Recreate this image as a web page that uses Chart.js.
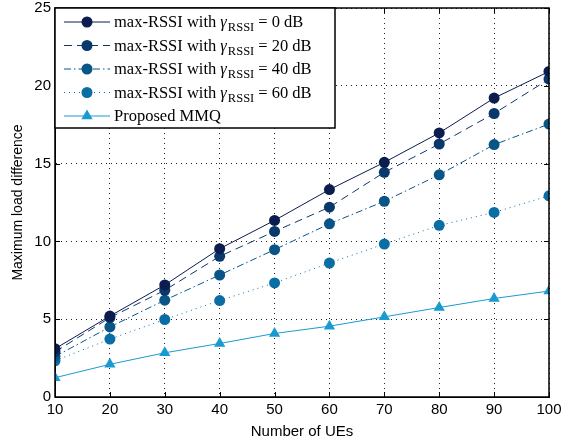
<!DOCTYPE html>
<html>
<head>
<meta charset="utf-8">
<script src="https://cdn.jsdelivr.net/npm/chart.js@4"></script>
<style>
  html, body { margin: 0; padding: 0; background: #fff; }
  #wrap { width: 575px; height: 441px; }
</style>
</head>
<body>
<div id="wrap"><canvas id="myChart" width="575" height="441"></canvas></div>
<script>
const labels = [10, 20, 30, 40, 50, 60, 70, 80, 90, 100];
const yTicks = [0, 5, 10, 15, 20, 25];

const rssi0 = [3.1, 5.2, 7.2, 9.53, 11.35, 13.33, 15.08, 16.97, 19.21, 20.92];
const rssi20 = [2.9, 5.1, 6.86, 9.04, 10.64, 12.2, 14.44, 16.26, 18.22, 20.43];
const rssi40 = [2.6, 4.5, 6.22, 7.84, 9.47, 11.13, 12.58, 14.28, 16.22, 17.54];
const rssi60 = [2.33, 3.72, 4.98, 6.2, 7.33, 8.61, 9.83, 11.03, 11.86, 12.93];
const mmq = [1.24, 2.1, 2.84, 3.44, 4.08, 4.55, 5.15, 5.75, 6.33, 6.81];

const legendGammas = ["0", "20", "40", "60"];

const COLORS = {
  c0: "#0b1d4f",
  c20: "#08386c",
  c40: "#0a5588",
  c60: "#0a6ea5",
  mmq: "#1a9bd0",
};

function series(label, values, color, dash, style, radius) {
  return {
    label: label,
    data: values.map((v, i) => ({ x: labels[i], y: v })),
    borderColor: color,
    backgroundColor: color,
    borderWidth: 1,
    borderDash: dash,
    pointStyle: style,
    pointRadius: radius,
    pointHoverRadius: radius,
    pointBorderWidth: 0,
    tension: 0,
  };
}

const data = {
  datasets: [
    series("0", rssi0, COLORS.c0, [], "circle", 5.5),
    series("20", rssi20, COLORS.c20, [8, 5], "circle", 5.5),
    series("40", rssi40, COLORS.c40, [7, 3, 1.5, 3], "circle", 5.5),
    series("60", rssi60, COLORS.c60, [1, 4], "circle", 5.5),
    series("Proposed MMQ", mmq, COLORS.mmq, [], "triangle", 6.5),
  ],
};

// frame + inward ticks on all four sides, legend with subscripts
const framePlugin = {
  id: "frame",
  afterDatasetsDraw(chart) {
    const { ctx, chartArea: a, scales } = chart;
    ctx.save();
    ctx.strokeStyle = "#000";
    ctx.lineWidth = 1;
    ctx.beginPath();
    labels.forEach((v) => {
      const x = Math.round(scales.x.getPixelForValue(v)) + 0.5;
      ctx.moveTo(x, a.bottom); ctx.lineTo(x, a.bottom - 5);
      ctx.moveTo(x, a.top); ctx.lineTo(x, a.top + 5);
    });
    yTicks.forEach((v) => {
      const y = Math.round(scales.y.getPixelForValue(v)) + 0.5;
      ctx.moveTo(a.left, y); ctx.lineTo(a.left + 5, y);
      ctx.moveTo(a.right, y); ctx.lineTo(a.right - 5, y);
    });
    ctx.stroke();
    ctx.lineWidth = 1.5;
    ctx.strokeRect(a.left, a.top, a.right - a.left, a.bottom - a.top);
    ctx.restore();
  },
  afterDraw(chart) {
    const { ctx, chartArea: a } = chart;
    const bx = a.left, by = a.top, bw = 280, bh = 120;
    ctx.save();
    ctx.fillStyle = "#fff";
    ctx.fillRect(bx, by, bw, bh);
    ctx.strokeStyle = "#000";
    ctx.lineWidth = 1.5;
    ctx.strokeRect(bx, by, bw, bh);
    chart.data.datasets.forEach((ds, i) => {
      const cy = by + 14 + i * 23.5;
      ctx.strokeStyle = ds.borderColor;
      ctx.lineWidth = 1;
      ctx.setLineDash(ds.borderDash);
      ctx.beginPath();
      ctx.moveTo(bx + 9, cy); ctx.lineTo(bx + 55, cy);
      ctx.stroke();
      ctx.setLineDash([]);
      ctx.fillStyle = ds.backgroundColor;
      ctx.beginPath();
      if (ds.pointStyle === "triangle") {
        const r = 6.5;
        ctx.moveTo(bx + 32, cy - r);
        ctx.lineTo(bx + 32 + r * 0.866, cy + r / 2);
        ctx.lineTo(bx + 32 - r * 0.866, cy + r / 2);
        ctx.closePath();
      } else {
        ctx.arc(bx + 32, cy, 5.5, 0, Math.PI * 2);
      }
      ctx.fill();
      ctx.fillStyle = "#000";
      ctx.textBaseline = "alphabetic";
      ctx.textAlign = "left";
      let tx = bx + 59;
      const base = cy + 5;
      ctx.font = "16.5px 'Liberation Serif', serif";
      if (i < 4) {
        let s = "max-RSSI with ";
        ctx.fillText(s, tx, base); tx += ctx.measureText(s).width;
        ctx.font = "italic 16.5px 'Liberation Serif', serif";
        ctx.fillText("\u03b3", tx, base); tx += ctx.measureText("\u03b3").width + 1;
        ctx.font = "12.5px 'Liberation Serif', serif";
        ctx.fillText("RSSI", tx, base + 4); tx += ctx.measureText("RSSI").width + 4;
        ctx.font = "16.5px 'Liberation Serif', serif";
        s = "= " + legendGammas[i] + " dB";
        ctx.fillText(s, tx, base);
      } else {
        ctx.fillText(ds.label, tx, base);
      }
    });
    ctx.restore();
  },
};

const tickFont = { family: "'Liberation Sans', Arial, sans-serif", size: 15 };

const config = {
  type: "line",
  data: data,
  options: {
    responsive: false,
    animation: false,
    events: [],
    layout: { padding: { top: 8, right: 26, left: 10, bottom: 0 } },
    plugins: {
      legend: { display: false },
      tooltip: { enabled: false },
    },
    scales: {
      x: {
        type: "linear",
        min: 10,
        max: 100,
        afterBuildTicks: (s) => { s.ticks = labels.map((v) => ({ value: v })); },
        afterFit: (s) => { s.height = 44; s.paddingRight = 0; s.paddingLeft = 0; },
        ticks: { color: "#000", font: tickFont, padding: 4, maxRotation: 0 },
        grid: { color: "#222", drawTicks: false, lineWidth: 1 },
        border: { display: true, color: "#000", dash: [1, 4] },
        title: {
          display: true,
          text: "Number of UEs",
          color: "#000",
          font: tickFont,
          padding: { top: 0, bottom: 0 },
        },
      },
      y: {
        type: "linear",
        min: 0,
        max: 25,
        afterBuildTicks: (s) => { s.ticks = yTicks.map((v) => ({ value: v })); },
        afterFit: (s) => { s.width = 45; s.paddingTop = 0; s.paddingBottom = 0; },
        ticks: { color: "#000", font: tickFont, padding: 4 },
        grid: { color: "#222", drawTicks: false, lineWidth: 1 },
        border: { display: true, color: "#000", dash: [1, 4] },
        title: {
          display: true,
          text: "Maximum load difference",
          color: "#000",
          font: { family: "'Liberation Sans', Arial, sans-serif", size: 14 },
          padding: { top: 0, bottom: 2 },
        },
      },
    },
  },
  plugins: [framePlugin],
};

const chart = new Chart(document.getElementById("myChart"), config);
</script>
</body>
</html>
